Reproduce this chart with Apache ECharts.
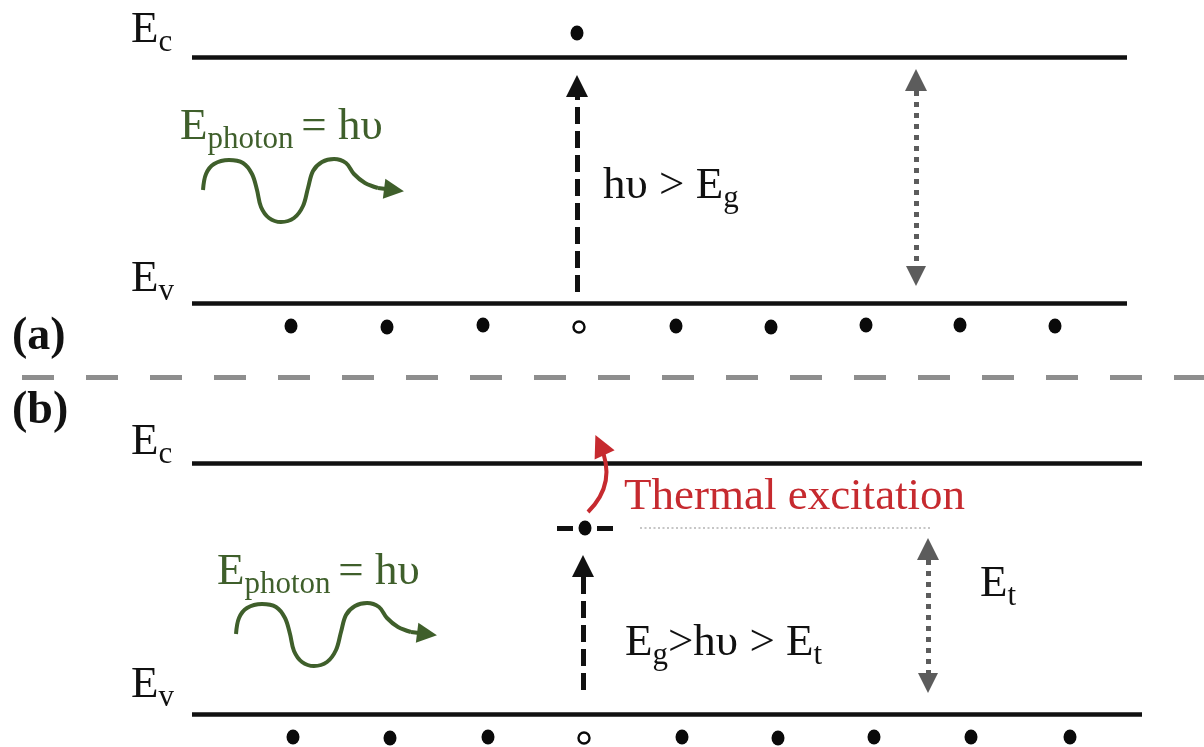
<!DOCTYPE html>
<html>
<head>
<meta charset="utf-8">
<script src="https://cdn.jsdelivr.net/npm/echarts@6/dist/echarts.min.js"></script>
<style>
  html, body { margin: 0; padding: 0; background: #ffffff; }
  #chart { width: 1204px; height: 747px; }
</style>
</head>
<body>
<div id="chart"></div>
<script>
// Band diagram: (a) band-to-band absorption, (b) absorption via a trap level.
// Coordinates live in a 1204 x 747 value space (y grows downward).

// Band edges: [xStart, xEnd, level]
const bandEdges = [
  [192, 1127, 57],   // (a) Ec
  [192, 1127, 303],  // (a) Ev
  [192, 1142, 463],  // (b) Ec
  [192, 1142, 714]   // (b) Ev
];

// Valence-band electrons (filled) and the hole left behind (open)
const electronsA = [[291, 326], [387, 327], [483, 325], [676, 326], [771, 327], [866, 325], [960, 325], [1055, 326]];
const holesA = [[579, 327]];
const electronsB = [[293, 737], [390, 738], [488, 737], [682, 737], [778, 738], [874, 737], [971, 737], [1070, 737]];
const holesB = [[584, 738]];
// Electron promoted to the conduction band (a) and electron sitting on the trap (b)
const excitedElectrons = [[577, 33], [585, 528]];

// Trap level marker and its guide line
const trapLevel = [[557, 528], [613, 528]];
const trapGuide = [[640, 528], [930, 528]];

// Separator between panels
const separator = [[22, 377], [1204, 377]];

// Absorption arrows: [from, arrowhead]
const absorptionArrows = [
  [[577, 292], [577, 86]],
  [[583, 690], [583, 566]]
];
// Gap-size double arrows
const gapArrows = [
  [[916, 80], [916, 276]],
  [[928, 549], [928, 683]]
];
// Thermal excitation from trap to conduction band
const thermalArrow = [[588, 512], [600, 445]];

// Photon wave glyph (panel a), and where each panel places it
const photonWave = [
  [203, 190], [206, 174], [214, 164], [229, 160], [243, 163], [252, 174], [257, 190],
  [261, 207], [269, 218], [281, 222], [294, 218], [303, 206], [308, 188], [313, 171],
  [322, 162], [334, 159], [346, 163], [354, 174], [365, 183], [378, 188]
];
const photonHead = [[378, 188], [394, 190]];
const photonShift = [[0, 0], [33, 444]];

// Text labels: [text, x, y, kind]
const labels = [
  ['{m|E}{s|c}', 131, 33, 'black'],
  ['{m|E}{s|v}', 131, 282, 'black'],
  ['{m|E}{s|c}', 131, 445, 'black'],
  ['{m|E}{s|v}', 131, 688, 'black'],
  ['{b|(a)}', 12, 337, 'black'],
  ['{b|(b)}', 12, 411, 'black'],
  ['{m|E}{s|photon }{m|= hυ}', 180, 130, 'green'],
  ['{m|E}{s|photon }{m|= hυ}', 217, 575, 'green'],
  ['{m|hυ > E}{s|g}', 603, 189, 'black'],
  ['{m|Thermal excitation}', 624, 497, 'red'],
  ['{m|E}{s|g}{m|>hυ > E}{s|t}', 625, 646, 'black'],
  ['{m|E}{s|t}', 980, 587, 'black']
];

const COLORS = { black: '#111111', green: '#3f5f2b', red: '#c62a2f', gray: '#5c5c5c', sep: '#8e8e8e', guide: '#c6c6c6' };
const SERIF = '"Liberation Serif", "Times New Roman", serif';

function seg(pair) { return { coords: pair }; }
function shifted(points, d) { return points.map(p => [p[0] + d[0], p[1] + d[1]]); }

const series = [];

// Band edges
series.push({
  type: 'lines', coordinateSystem: 'cartesian2d', silent: true, z: 2,
  symbol: 'none',
  lineStyle: { color: COLORS.black, width: 4.5, opacity: 1 },
  data: bandEdges.map(b => seg([[b[0], b[2]], [b[1], b[2]]]))
});

// Panel separator
series.push({
  type: 'lines', coordinateSystem: 'cartesian2d', silent: true,
  symbol: 'none',
  lineStyle: { color: COLORS.sep, width: 5, type: [32, 32], opacity: 1 },
  data: [seg(separator)]
});

// Trap level and faint guide
series.push({
  type: 'lines', coordinateSystem: 'cartesian2d', silent: true,
  symbol: 'none',
  lineStyle: { color: COLORS.black, width: 5, type: [16, 24], opacity: 1 },
  data: [seg(trapLevel)]
});
series.push({
  type: 'lines', coordinateSystem: 'cartesian2d', silent: true,
  symbol: 'none',
  lineStyle: { color: COLORS.guide, width: 2, type: [2, 2.5], opacity: 1 },
  data: [seg(trapGuide)]
});

// Absorption arrows (dashed, black)
series.push({
  type: 'lines', coordinateSystem: 'cartesian2d', silent: true,
  symbol: ['none', 'triangle'], symbolSize: [22, 22],
  lineStyle: { color: COLORS.black, width: 5, type: [17, 7], opacity: 1 },
  data: absorptionArrows.map(seg)
});

// Gap double arrows (dotted, gray)
series.push({
  type: 'lines', coordinateSystem: 'cartesian2d', silent: true,
  symbol: ['triangle', 'triangle'], symbolSize: [22, 20],
  lineStyle: { color: COLORS.gray, width: 5, type: [5, 6], opacity: 1 },
  data: gapArrows.map(seg)
});

// Thermal excitation arrow (curved, red)
series.push({
  type: 'lines', coordinateSystem: 'cartesian2d', silent: true,
  symbol: ['none', 'triangle'], symbolSize: [21, 22],
  lineStyle: { color: COLORS.red, width: 4, curveness: -0.35, opacity: 1 },
  data: [seg(thermalArrow)]
});

// Photon waves
photonShift.forEach(d => {
  series.push({
    type: 'line', silent: true, smooth: 0.35, showSymbol: false, symbol: 'none',
    lineStyle: { color: COLORS.green, width: 4 },
    data: shifted(photonWave, d)
  });
});
series.push({
  type: 'lines', coordinateSystem: 'cartesian2d', silent: true,
  symbol: ['none', 'triangle'], symbolSize: [22, 20],
  lineStyle: { color: COLORS.green, width: 4, opacity: 1 },
  data: photonShift.map(d => seg(shifted(photonHead, d)))
});

// Electrons and holes
series.push({
  type: 'scatter', silent: true, z: 5,
  symbol: 'circle', symbolSize: [13, 15],
  itemStyle: { color: '#0a0a0a', opacity: 1 },
  data: electronsA.concat(electronsB, excitedElectrons)
});
series.push({
  type: 'scatter', silent: true, z: 5,
  symbol: 'circle', symbolSize: 11,
  itemStyle: { color: '#ffffff', borderColor: '#0a0a0a', borderWidth: 2.4, opacity: 1 },
  data: holesA.concat(holesB)
});

// Text
series.push({
  type: 'scatter', silent: true, z: 6,
  symbolSize: 0,
  itemStyle: { opacity: 1 },
  data: labels.map(l => ({
    value: [l[1], l[2]],
    label: { formatter: l[0], color: COLORS[l[3]] }
  })),
  label: {
    show: true, position: [0, 0], align: 'left', verticalAlign: 'middle',
    fontFamily: SERIF,
    rich: {
      m: { fontFamily: SERIF, fontSize: 45, verticalAlign: 'top' },
      s: { fontFamily: SERIF, fontSize: 31, padding: [20, 0, 0, 0], verticalAlign: 'top' },
      b: { fontFamily: SERIF, fontSize: 46, fontWeight: 'bold', verticalAlign: 'top' }
    }
  }
});

const chart = echarts.init(document.getElementById('chart'), null, { renderer: 'canvas' });
chart.setOption({
  animation: false,
  backgroundColor: '#ffffff',
  grid: { left: 0, right: 0, top: 0, bottom: 0 },
  xAxis: { type: 'value', min: 0, max: 1204, show: false },
  yAxis: { type: 'value', min: 0, max: 747, inverse: true, show: false },
  series: series
});
</script>
</body>
</html>
